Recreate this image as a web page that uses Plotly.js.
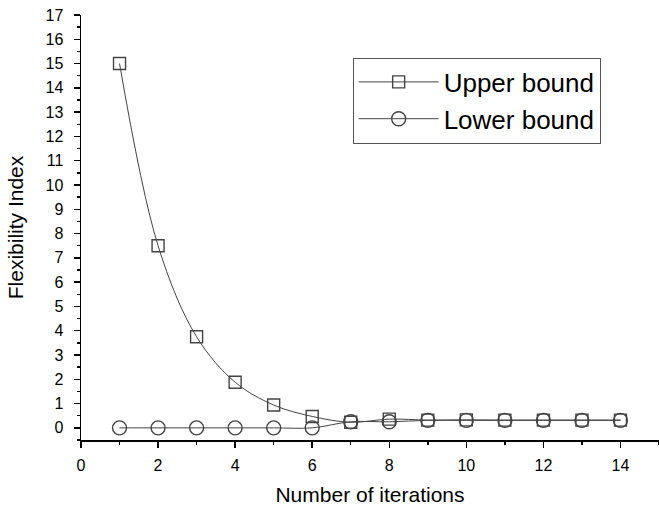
<!DOCTYPE html>
<html>
<head>
<meta charset="utf-8">
<script src="https://cdn.plot.ly/plotly-3.0.1.min.js"></script>
<style>html,body{margin:0;padding:0;background:#fff;}#chart{width:659px;height:513px;}</style>
</head>
<body>
<div id="chart"></div>
<script>
const iterations = [1,2,3,4,5,6,7,8,9,10,11,12,13,14];
const upperBound = [15, 7.5, 3.75, 1.88, 0.94, 0.47, 0.23, 0.36, 0.32, 0.33, 0.32, 0.32, 0.32, 0.32];
const lowerBound = [0, 0, 0, 0, 0, 0, 0.25, 0.25, 0.31, 0.31, 0.31, 0.31, 0.31, 0.31];
const seriesNames = ['Upper bound', 'Lower bound'];
const lineColor = '#444';

const traces = [
  {x: iterations, y: upperBound, name: seriesNames[0], type: 'scatter', mode: 'lines+markers',
   line: {color: lineColor, width: 1, shape: 'spline'},
   marker: {symbol: 'square-open', size: 12, color: lineColor, line: {width: 1.4}}},
  {x: iterations, y: lowerBound, name: seriesNames[1], type: 'scatter', mode: 'lines+markers',
   line: {color: lineColor, width: 1, shape: 'spline'},
   marker: {symbol: 'circle-open', size: 14, color: lineColor, line: {width: 1.4}}}
];

const fontFam = 'Liberation Sans, Arial, sans-serif';
const layout = {
  width: 659, height: 513,
  margin: {l: 81, r: 0, t: 15, b: 73},
  paper_bgcolor: '#fff', plot_bgcolor: '#fff',
  font: {family: fontFam, color: '#000', size: 15},
  showlegend: true,
  legend: {x: 0.47, y: 0.9, xanchor: 'left', yanchor: 'top',
           bordercolor: '#555', borderwidth: 1, bgcolor: '#fff',
           font: {size: 26, family: fontFam}, tracegroupgap: 0, itemwidth: 80},
  xaxis: {range: [0, 15], tickvals: [0,2,4,6,8,10,12,14], showgrid: false, zeroline: false,
          showline: true, linecolor: '#000', linewidth: 1.5, ticks: 'outside', ticklen: 6,
          tickwidth: 1.5, tickcolor: '#000', tickfont: {size: 16}, ticklabelstandoff: 4,
          minor: {dtick: 1, tick0: 0, ticks: 'outside', ticklen: 3, tickcolor: '#000', tickwidth: 1.5},
          title: {text: 'Number of iterations', font: {size: 21}, standoff: 14}},
  yaxis: {range: [-0.5, 17], dtick: 1, tick0: 0, showgrid: false, zeroline: false,
          showline: true, linecolor: '#000', linewidth: 1.5, ticks: 'outside', ticklen: 6,
          tickwidth: 1.5, tickcolor: '#000', tickfont: {size: 16}, ticklabelstandoff: 7,
          minor: {dtick: 0.5, tick0: 0, ticks: 'outside', ticklen: 3, tickcolor: '#000', tickwidth: 1.5},
          title: {text: 'Flexibility Index', font: {size: 21}, standoff: 16}}
};
Plotly.newPlot('chart', traces, layout, {displayModeBar: false, staticPlot: true});
</script>
</body>
</html>
